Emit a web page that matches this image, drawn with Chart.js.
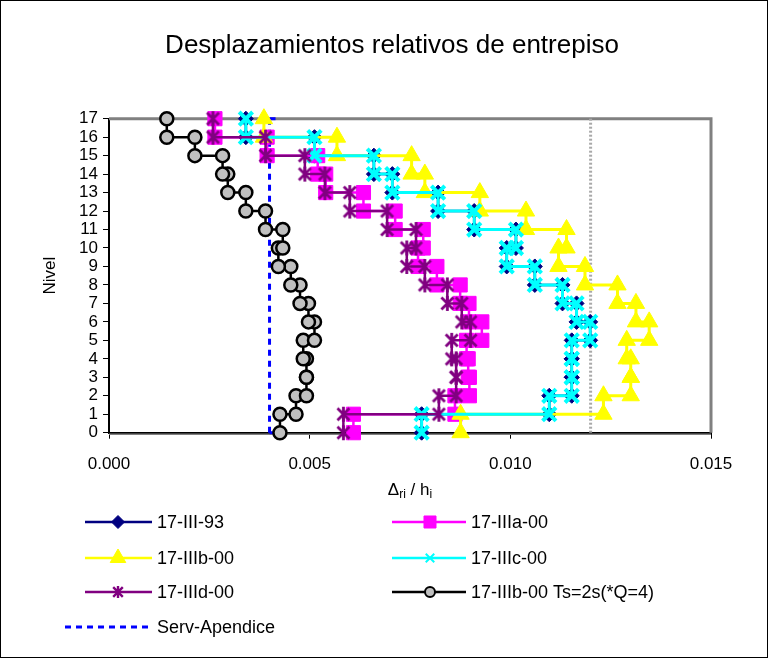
<!DOCTYPE html>
<html><head><meta charset="utf-8">
<script src="https://cdn.jsdelivr.net/npm/chart.js@4/dist/chart.umd.min.js"></script>
<style>html,body{margin:0;padding:0;background:#fff}</style>
</head><body><canvas id="c" width="768" height="658"></canvas>
<script>
// ---- data ----
const levels = [0,1,2,3,4,5,6,7,8,9,10,11,12,13,14,15,16,17];
const xTickValues = [0, 0.005, 0.010, 0.015];
// story drift ratio for stories 1..17
const drift_17_III_93  = [0.00779,0.01097,0.01153,0.01153,0.01153,0.01199,0.01165,0.0113,0.01061,0.00991,0.01014,0.0091,0.0082,0.00706,0.0066,0.00512,0.00341];
const drift_17_IIIa_00 = [0.00609,0.00862,0.00898,0.00895,0.00891,0.00929,0.00897,0.00875,0.00817,0.0077,0.00783,0.00713,0.00634,0.0054,0.0052,0.00394,0.00264];
const drift_17_IIIb_00 = [0.00876,0.01232,0.013,0.013,0.0129,0.01346,0.01313,0.01267,0.01186,0.0112,0.0114,0.01039,0.00924,0.00787,0.00754,0.00568,0.00386];
const drift_17_IIIc_00 = [0.00779,0.01097,0.01153,0.01153,0.01153,0.01199,0.01165,0.0113,0.01061,0.00991,0.01014,0.0091,0.0082,0.00706,0.0066,0.00512,0.00341];
const drift_17_IIId_00 = [0.00584,0.00822,0.00865,0.00865,0.00854,0.00901,0.00879,0.00843,0.00787,0.00742,0.00765,0.00693,0.0060,0.00538,0.00488,0.0039,0.00259];
const drift_17_IIIb_Ts2 = [0.00426,0.00466,0.00492,0.00492,0.00484,0.00512,0.00497,0.00476,0.00453,0.00422,0.00433,0.0039,0.00341,0.00296,0.00283,0.00214,0.00144];
const servApendice = [0.004, 0.004];   // service limit (bottom, top)
const limit012 = [0.012, 0.012];       // reference limit line
const labels = ['17-III-93','17-IIIa-00','17-IIIb-00','17-IIIc-00','17-IIId-00','17-IIIb-00 Ts=2s(*Q=4)','Serv-Apendice'];

// ---- helpers ----
function stepPoints(d){
  const pts=[];
  d.forEach((v,i)=>{pts.push({x:v,y:levels[i]});pts.push({x:v,y:levels[i+1]});});
  return pts;
}
function vertLine(v){ return [{x:v[0],y:levels[0]},{x:v[1],y:levels[levels.length-1]}]; }
function makeStar(color,size,lw){
  const c=document.createElement('canvas');c.width=c.height=size;
  const g=c.getContext('2d');g.strokeStyle=color;g.lineWidth=lw;g.lineCap='butt';
  const m=size/2,r=size/2-1,d=r*0.8;
  g.beginPath();
  g.moveTo(m,m-r);g.lineTo(m,m+r);
  g.moveTo(m-d,m-d);g.lineTo(m+d,m+d);
  g.moveTo(m-d,m+d);g.lineTo(m+d,m-d);
  g.stroke();return c;
}
const starBig = makeStar('#800080',17,2.8);
const starSmall = makeStar('#800080',14,2.4);

const NAVY='#000080',MAG='#FF00FF',YEL='#FFFF00',CYAN='#00FFFF',PURP='#800080',BLK='#000000',BLUE='#0000FF',GRAY='#A8A8A8';

const datasets = [
  {label:'lim', data:vertLine(limit012), borderColor:GRAY, borderWidth:3, borderDash:[2,2], pointRadius:0, order:10},
  {label:labels[6], data:vertLine(servApendice), borderColor:BLUE, borderWidth:3, borderDash:[6,5], pointStyle:'dash', pointRadius:6, pointBorderColor:BLUE, pointBorderWidth:3, order:9},
  {label:labels[0], data:stepPoints(drift_17_III_93), borderColor:NAVY, borderWidth:2.5, pointStyle:'rectRot', pointRadius:7.5, pointBackgroundColor:NAVY, pointBorderColor:NAVY, pointBorderWidth:1, order:8},
  {label:labels[1], data:stepPoints(drift_17_IIIa_00), borderColor:MAG, borderWidth:2.5, pointStyle:'rect', pointRadius:10, pointBackgroundColor:MAG, pointBorderColor:MAG, pointBorderWidth:1, order:7},
  {label:labels[2], data:stepPoints(drift_17_IIIb_00), borderColor:YEL, borderWidth:3, pointStyle:'triangle', pointRadius:10, pointBackgroundColor:YEL, pointBorderColor:YEL, pointBorderWidth:1, order:6},
  {label:labels[3], data:stepPoints(drift_17_IIIc_00), borderColor:CYAN, borderWidth:3, pointStyle:'crossRot', pointRadius:9.5, pointBorderColor:CYAN, pointBorderWidth:4, order:5},
  {label:labels[4], data:stepPoints(drift_17_IIId_00), borderColor:PURP, borderWidth:2.5, pointStyle:starBig, pointRadius:8, order:4},
  {label:labels[5], data:stepPoints(drift_17_IIIb_Ts2), borderColor:BLK, borderWidth:2.5, pointStyle:'circle', pointRadius:6.5, pointBackgroundColor:'#C0C0C0', pointBorderColor:BLK, pointBorderWidth:2.5, order:3}
];
datasets.forEach(d=>{d.showLine=true;d.fill=false;d.tension=0;d.clip=false;d.pointHoverRadius=d.pointRadius;});

const FONT='"Liberation Sans", Arial, sans-serif';

const legendItems = [
  {col:0,row:0,text:labels[0],color:NAVY,style:'rectRot',r:6.5,fill:NAVY,bw:1},
  {col:1,row:0,text:labels[1],color:MAG,style:'rect',r:8.5,fill:MAG,bw:1},
  {col:0,row:1,text:labels[2],color:YEL,style:'triangle',r:9,fill:YEL,bw:1},
  {col:1,row:1,text:labels[3],color:CYAN,style:'crossRot',r:6,fill:CYAN,bw:2},
  {col:0,row:2,text:labels[4],color:PURP,style:starSmall,r:6,fill:PURP,bw:1},
  {col:1,row:2,text:labels[5],color:BLK,style:'circle',r:5,fill:'#C0C0C0',bw:2},
  {col:0,row:3,text:labels[6],color:BLUE,style:null,dash:true}
];

const decor = {
  id:'decor',
  beforeDraw(chart){
    const ctx=chart.ctx;ctx.save();
    ctx.fillStyle='#fff';ctx.fillRect(0,0,chart.width,chart.height);
    ctx.restore();
  },
  beforeDatasetsDraw(chart){
    const {ctx,chartArea:a}=chart;ctx.save();
    ctx.strokeStyle='#808080';ctx.lineWidth=3;
    ctx.beginPath();ctx.moveTo(a.left,a.top);ctx.lineTo(a.right,a.top);ctx.lineTo(a.right,a.bottom);ctx.stroke();
    ctx.strokeStyle='#808080';ctx.lineWidth=1.5;
    ctx.beginPath();ctx.moveTo(a.left,a.bottom+1.5);ctx.lineTo(a.right,a.bottom+1.5);ctx.stroke();
    ctx.restore();
  },
  afterDraw(chart){
    const {ctx,chartArea:a}=chart;ctx.save();
    // outer frame
    ctx.strokeStyle='#000';ctx.lineWidth=1;ctx.strokeRect(0.5,0.5,chart.width-1,chart.height-1);
    // title
    ctx.fillStyle='#000';ctx.textAlign='center';ctx.textBaseline='middle';
    ctx.font='26px '+FONT;ctx.fillText('Desplazamientos relativos de entrepiso',392,46);
    // y title
    ctx.save();ctx.translate(50,(a.top+a.bottom)/2);ctx.rotate(-Math.PI/2);
    ctx.font='17px '+FONT;ctx.fillText('Nivel',0,0);ctx.restore();
    // x title with subscripts
    const parts=[['Δ',17,0],['ri',12,5],[' / h',17,0],['i',12,5]];
    let w=0;parts.forEach(p=>{ctx.font=p[1]+'px '+FONT;w+=ctx.measureText(p[0]).width;});
    let x=(a.left+a.right)/2-w/2;ctx.textAlign='left';
    parts.forEach(p=>{ctx.font=p[1]+'px '+FONT;ctx.fillText(p[0],x,490+p[2]);x+=ctx.measureText(p[0]).width;});
    // legend
    const colX=[[85,152,118,157],[392,466,430,471]];
    const rowY=[522,558,592,627];
    legendItems.forEach(it=>{
      const c=colX[it.col],y=rowY[it.row];
      ctx.save();ctx.strokeStyle=it.color;ctx.lineWidth=it.dash?3:2.5;
      if(it.dash){ctx.setLineDash([6,5]);}
      ctx.beginPath();ctx.moveTo(it.dash?65:c[0],y);ctx.lineTo(c[1],y);ctx.stroke();ctx.restore();
      if(it.style){
        ctx.save();ctx.fillStyle=it.fill;ctx.strokeStyle=it.color;ctx.lineWidth=it.bw;
        Chart.helpers.drawPoint(ctx,{pointStyle:it.style,radius:it.r,rotation:0,borderWidth:it.bw},c[2],y);
        ctx.restore();
      }
      ctx.fillStyle='#000';ctx.textAlign='left';ctx.textBaseline='middle';ctx.font='18px '+FONT;
      ctx.fillText(it.text,c[3],y+1);
    });
    ctx.restore();
  }
};

new Chart(document.getElementById('c'),{
  type:'scatter',
  data:{datasets},
  options:{
    responsive:false,animation:false,devicePixelRatio:1,
    layout:{padding:{left:0,right:57,top:118.7,bottom:165.3}},
    plugins:{legend:{display:false},title:{display:false},tooltip:{enabled:false}},
    scales:{
      x:{type:'linear',min:0,max:0.015,
        afterBuildTicks:s=>{s.ticks=xTickValues.map(v=>({value:v}));},
        afterFit:s=>{s.height=60;},
        ticks:{autoSkip:false,maxRotation:0,color:'#000',font:{family:FONT,size:17},padding:15,callback:v=>Number(v).toFixed(3)},
        grid:{drawOnChartArea:false,drawTicks:true,tickLength:6,color:'#000',lineWidth:1},
        border:{color:'#000',width:2}},
      y:{type:'linear',min:0,max:17,
        afterBuildTicks:s=>{s.ticks=levels.map(v=>({value:v}));},
        afterFit:s=>{s.width=109;},
        ticks:{autoSkip:false,color:'#000',font:{family:FONT,size:17},padding:5,callback:v=>String(v)},
        grid:{drawOnChartArea:false,drawTicks:true,tickLength:6,color:'#000',lineWidth:1},
        border:{color:'#000',width:2}}
    }
  },
  plugins:[decor]
});
</script></body></html>
